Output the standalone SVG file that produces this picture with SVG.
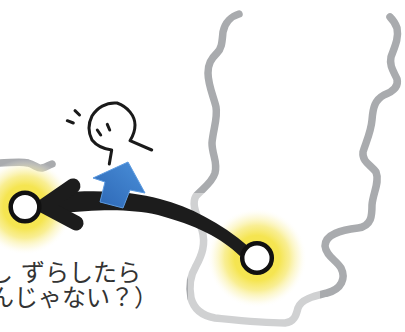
<svg xmlns="http://www.w3.org/2000/svg" width="405" height="332" viewBox="0 0 405 332">
  <defs>
    <radialGradient id="glow" cx="0.5" cy="0.5" r="0.5">
      <stop offset="0" stop-color="#f5e44e"/>
      <stop offset="0.45" stop-color="#f5e551"/>
      <stop offset="0.65" stop-color="#f7ea78" stop-opacity="0.8"/>
      <stop offset="0.85" stop-color="#fbf4bc" stop-opacity="0.4"/>
      <stop offset="1" stop-color="#ffffff" stop-opacity="0"/>
    </radialGradient>
    <linearGradient id="blueFill" x1="0" y1="1" x2="1" y2="0">
      <stop offset="0" stop-color="#2c66b4"/>
      <stop offset="1" stop-color="#4a8fd9"/>
    </linearGradient>
    <style>
      .terrain { fill: none; stroke: #a9abae; stroke-width: 7.5; stroke-linecap: round; stroke-linejoin: round; }
      .ink { fill: none; stroke: #1a1a1a; stroke-width: 3; stroke-linecap: round; stroke-linejoin: round; }
      .node { fill: #ffffff; stroke: #111111; stroke-width: 4.5; }
      .label { font-family: "Noto Sans CJK JP", "Noto Sans", sans-serif; font-size: 24px; fill: #333333; }
    </style>
  </defs>

  <!-- background terrain outlines -->
  <path class="terrain" d="M 239 14 C 232 16, 225 22, 223 32 C 222 42, 222 48, 217 53 C 211 59, 208 64, 208 73 C 208 85, 214 98, 216 107 C 218 118, 213 130, 212 143 C 212 155, 218 162, 215 173 C 212 183, 202 189, 196 196 C 191 204, 197 215, 202 230 C 206 244, 202 255, 196 266 C 190 276, 189 288, 191 298 C 194 310, 204 316, 215 318 C 235 320, 262 323, 285 323 C 294 322, 296 316, 298 308 C 301 299, 315 296, 327 293 C 342 289, 346 278, 341 268 C 336 260, 326 256, 325 246 C 325 234, 342 230, 358 228 C 372 226, 372 215, 372 205 C 373 193, 380 182, 376 172 C 371 165, 362 162, 363 152 C 366 142, 371 132, 372 120 C 373 107, 375 100, 384 95 C 392 92, 399 87, 397 79 C 394 72, 389 66, 391 57 C 395 46, 399 38, 397 28 C 395 22, 392 19, 390 17"/>
  <path class="terrain" d="M 0 163 C 10 163, 20 161, 28 163 C 35 165, 38 169, 42 168 C 46 167, 49 165, 52 164"/>

  <!-- faded area behind the lower glow -->
  <rect x="188" y="193" width="132" height="139" fill="#ffffff" opacity="0.45"/>

  <!-- glows -->
  <circle cx="25" cy="207" r="48" fill="url(#glow)"/>
  <circle cx="257" cy="258" r="50" fill="url(#glow)"/>

  <!-- connectors -->
  <g id="connectors">
    <path id="move-arrow" fill="#1c1c1c" d="M 55 193 C 100 189, 135 192, 160 199 C 190 207, 220 222, 249 247 L 240 256 C 222 238, 195 225, 158 215 C 130 209, 100 209, 55 214 Z"/>
    <path fill="none" stroke="#1c1c1c" stroke-width="15" stroke-linecap="round" stroke-linejoin="round" d="M 73 186 L 44 206 L 76 223"/>
  </g>

  <!-- nodes -->
  <g id="node-left">
    <circle class="node" cx="25" cy="207" r="14.3"/>
  </g>
  <g id="node-right">
    <circle class="node" cx="257" cy="258" r="14.8"/>
  </g>

  <!-- blue upward arrow -->
  <g id="lift-arrow">
    <polygon points="128,162 93,178 105,182 100,202 123,208 130,190 145,193" fill="url(#blueFill)" stroke="#5d9be0" stroke-width="1" stroke-linejoin="round"/>
  </g>

  <!-- little figure -->
  <g id="figure">
    <path class="ink" d="M 151.7 150 L 130 140.7 C 133 136, 135 131, 135 125 C 135 116, 128 107, 117 103 C 106 102, 97 108, 92 116 C 88 124, 88 132, 92 140 C 96 145, 104 149, 111.7 150 L 109.3 164"/>
    <path class="ink" d="M 97.3 130 L 100.7 135"/>
    <path class="ink" d="M 107.3 124.3 L 109.7 130"/>
    <path class="ink" d="M 75 110.7 L 79.5 115"/>
    <path class="ink" d="M 67.3 120.7 L 73.3 123"/>
  </g>

  <!-- caption -->
  <g id="caption">
    <text class="label" y="281"><tspan x="-11">し</tspan><tspan x="21">ずらしたら</tspan></text>
    <text class="label" x="-10" y="306">んじゃない？）</text>
  </g>
</svg>
